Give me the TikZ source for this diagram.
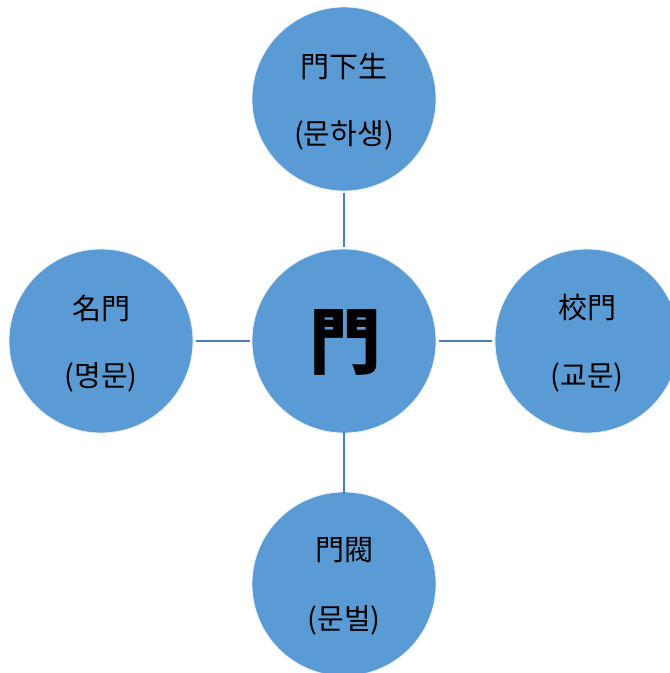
\documentclass[tikz,border=0pt]{standalone}
\usepackage{fontspec}
\setmainfont{Noto Sans CJK KR}
\definecolor{cfill}{HTML}{5B9BD5}
\definecolor{cline}{HTML}{4A7EBB}
\begin{document}
\begin{tikzpicture}[x=1pt,y=-1pt,
  bubble/.style={circle,fill=cfill,draw=white!85!cfill,line width=0.8pt,minimum size=184pt,inner sep=0pt},
  lbl/.style={font=\fontsize{29}{29}\selectfont,inner sep=0pt,anchor=center},
  link/.style={draw=cline,line width=2pt}]
\useasboundingbox (0,0) rectangle (670,673);
\clip (0,0) rectangle (670,673);
\node[bubble] (c) at (344,341) {};
\node[bubble] (t) at (344,99) {};
\node[bubble] (l) at (101,341) {};
\node[bubble] (r) at (587,341) {};
\node[bubble] (b) at (344,584) {};
\node[font=\fontsize{72}{72}\selectfont\bfseries,inner sep=0pt] (ct) at (345,342) {門};
\node[lbl] (t1) at (344,66) {門下生};
\node[lbl] (t2) at (344,135) {(문하생)};
\node[lbl] (l1) at (101,308) {名門};
\node[lbl] (l2) at (101,377) {(명문)};
\node[lbl] (r1) at (587,308) {校門};
\node[lbl] (r2) at (587,377) {(교문)};
\node[lbl] (b1) at (344,550) {門閥};
\node[lbl] (b2) at (344,620) {(문벌)};
\draw[link] ([yshift=-2pt]t.south) -- ([yshift=2pt]c.north);
\draw[link] ([xshift=3pt]l.east) -- ([xshift=-2pt]c.west);
\draw[link] ([xshift=3pt]c.east) -- ([xshift=-3pt]r.west);
\draw[link] ([yshift=2pt]c.south) -- ([yshift=-2pt]b.north);
\end{tikzpicture}
\end{document}
